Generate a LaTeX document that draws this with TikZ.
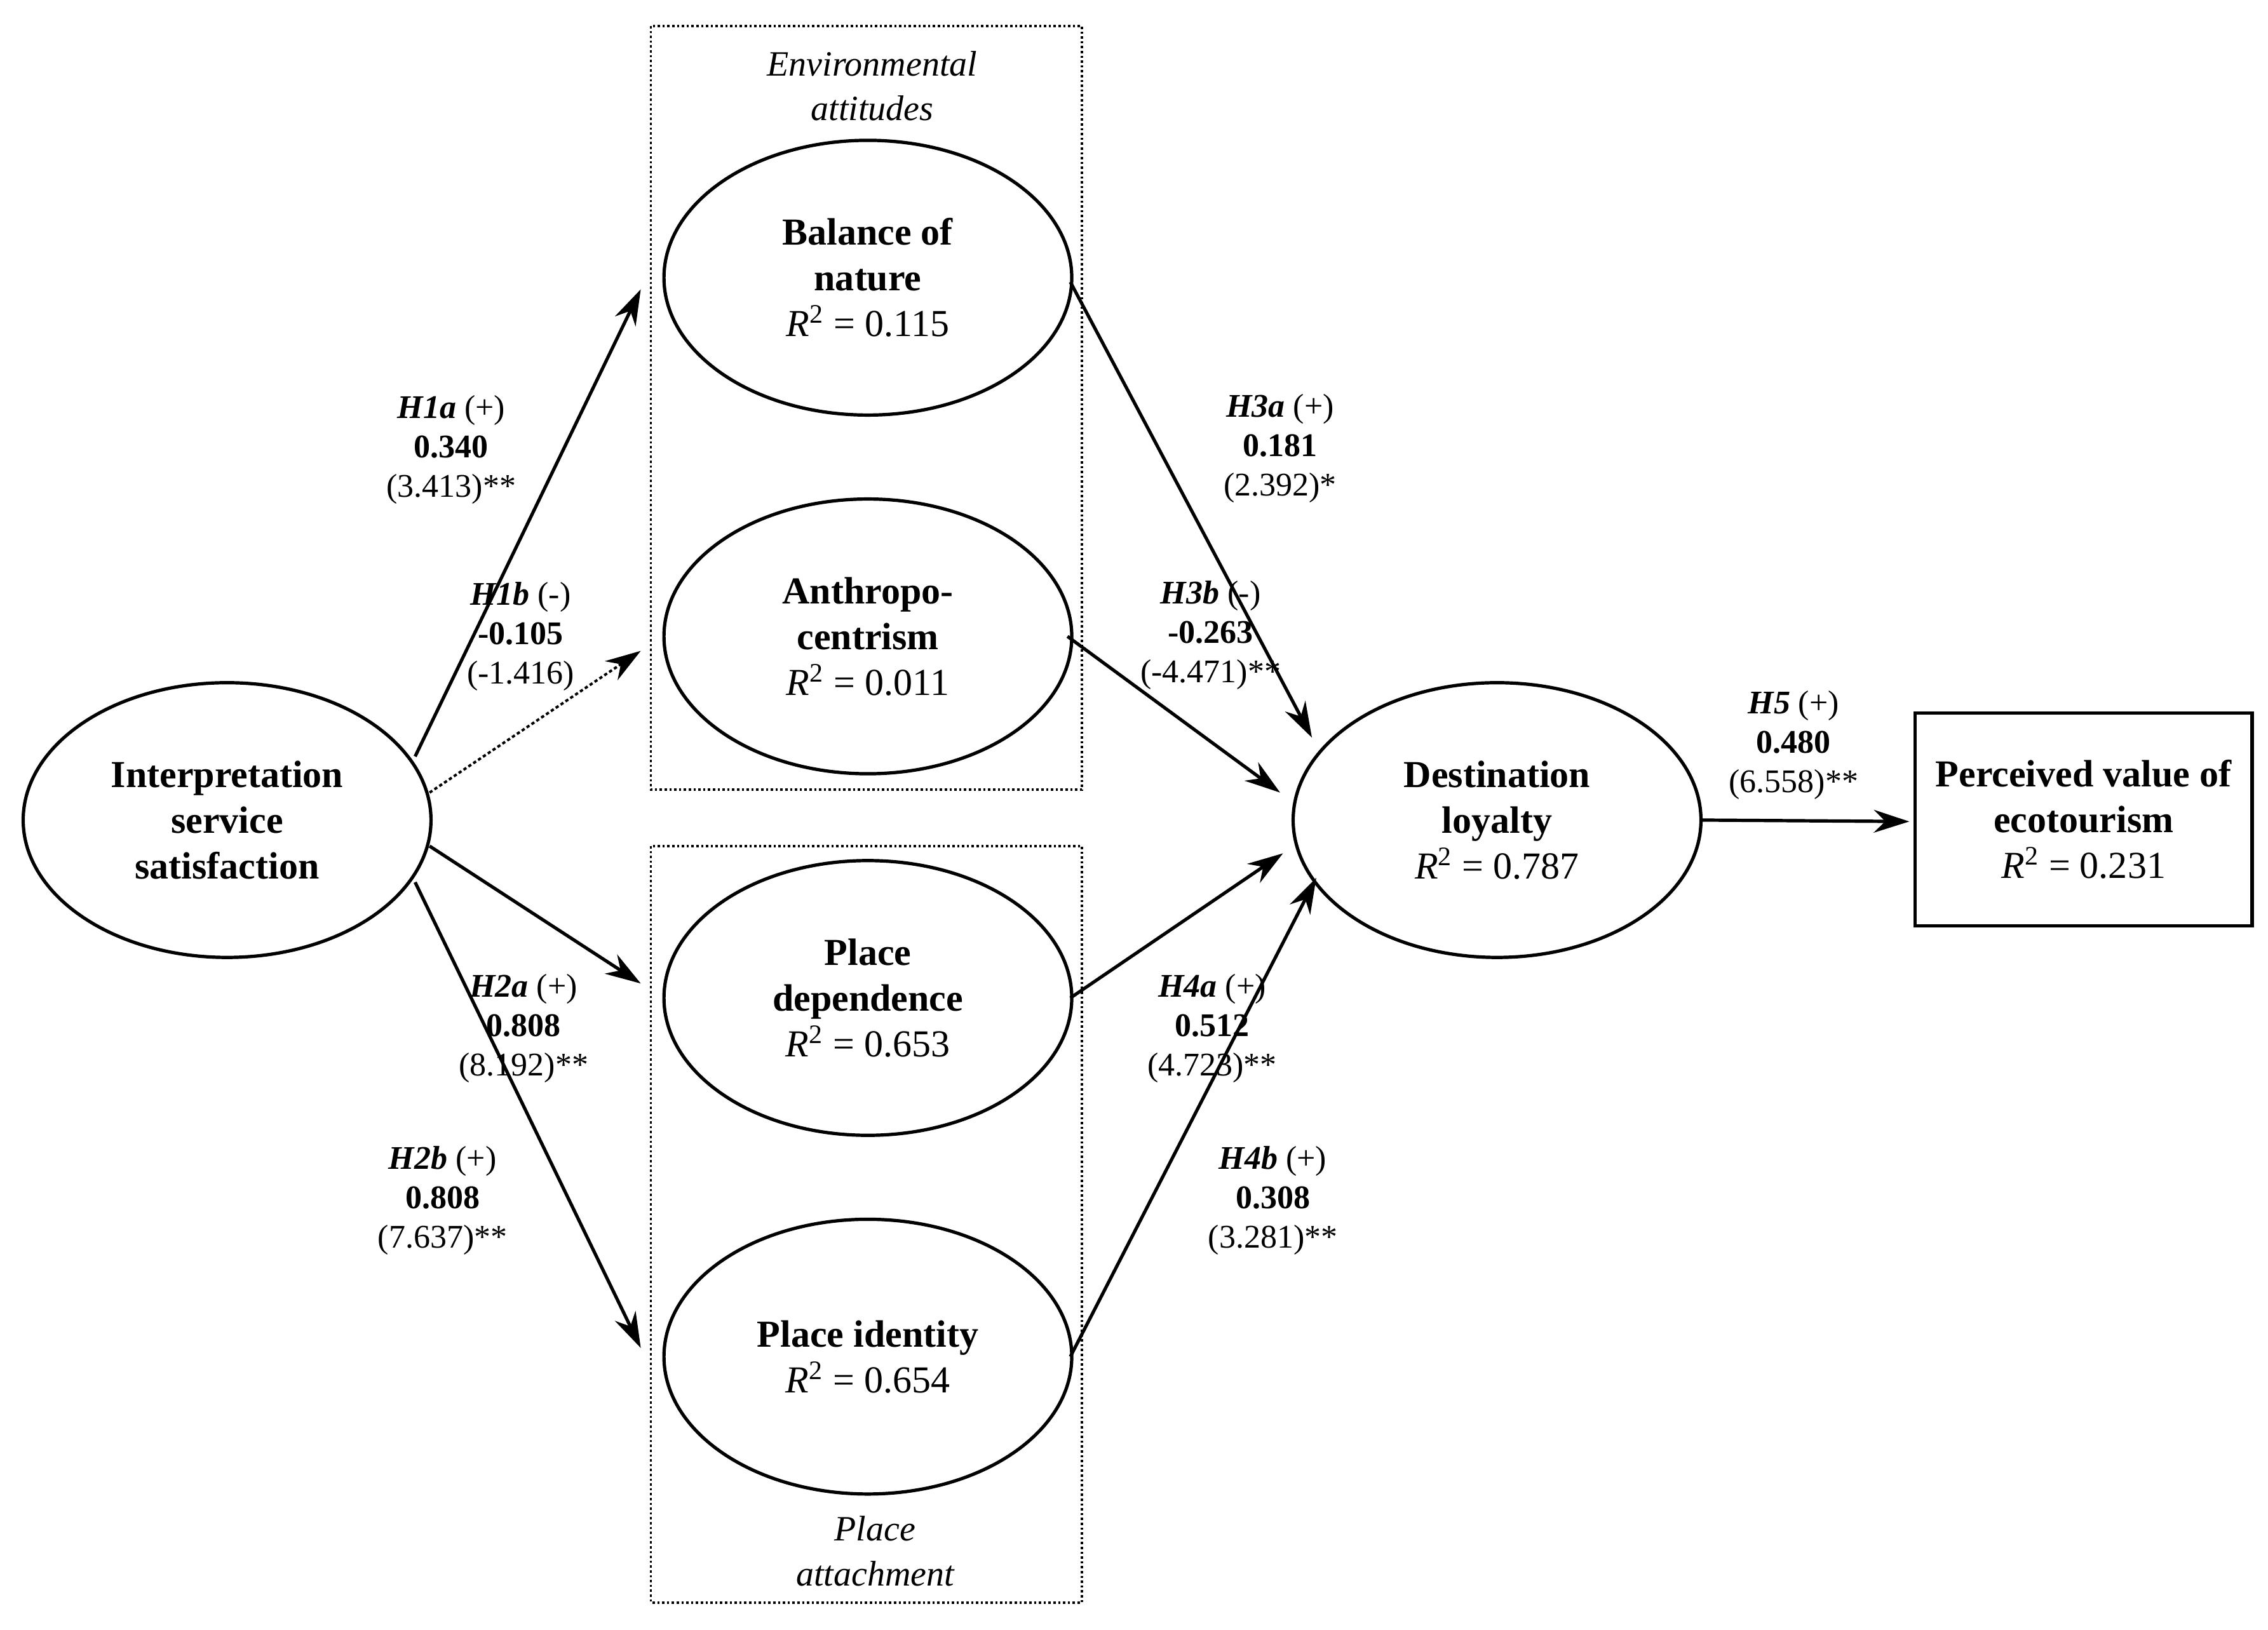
\documentclass[tikz,border=0pt]{standalone}
\usepackage{fontspec}
\setmainfont{Liberation Serif}
\usetikzlibrary{shapes.geometric,arrows.meta}
\begin{document}
\begin{tikzpicture}[x=0.02cm,y=-0.02cm,
 ell/.style={ellipse,draw,line width=1.3pt,minimum width=5.64cm,minimum height=3.8cm,inner sep=0pt,align=center,font=\fontsize{15}{18}\selectfont},
 arr/.style={line width=1.3pt,-{Stealth[length=14pt,width=9pt]}},
 lab/.style={align=center,font=\fontsize{13}{15.5}\selectfont,inner sep=0pt},
 grp/.style={draw,densely dotted,line width=0.9pt},
 gl/.style={font=\fontsize{14}{17}\selectfont\itshape,inner sep=0pt}]
\useasboundingbox (0,0) rectangle (1568,1127);
\draw[grp] (450,18) rectangle (748,546);
\draw[grp] (450,585) rectangle (748,1108);
\node[gl] (ea1) at (603,44) {Environmental};
\node[gl] (ea2) at (603,75) {attitudes};
\node[gl] (pa1) at (605,1057) {Place};
\node[gl] (pa2) at (605,1088) {attachment};
\newcommand{\rsq}[1]{\textit{R}\textsuperscript{2} = #1}
\node[ell] (isat) at (157,567) {\textbf{Interpretation}\\\textbf{service}\\\textbf{satisfaction}};
\node[ell] (bal) at (600,192) {\textbf{Balance of}\\\textbf{nature}\\\rsq{0.115}};
\node[ell] (ant) at (600,440) {\textbf{Anthropo-}\\\textbf{centrism}\\\rsq{0.011}};
\node[ell] (pdep) at (600,690) {\textbf{Place}\\\textbf{dependence}\\\rsq{0.653}};
\node[ell] (pid) at (600,938) {\textbf{Place identity}\\\rsq{0.654}};
\node[ell] (dl) at (1035,567) {\textbf{Destination}\\\textbf{loyalty}\\\rsq{0.787}};
\node[draw,line width=1.3pt,minimum width=4.66cm,minimum height=2.94cm,align=center,inner sep=0pt,font=\fontsize{15}{18}\selectfont] (pv) at (1440.5,566.5) {\textbf{Perceived value of}\\\textbf{ecotourism}\\\rsq{0.231}};
\coordinate (s1) at (287,523); \coordinate (t1) at (443,200);
\coordinate (s2) at (297,548); \coordinate (t2) at (443,450);
\coordinate (s3) at (297,585); \coordinate (t3) at (443,680);
\coordinate (s4) at (287,610); \coordinate (t4) at (443,932);
\coordinate (s5) at (740,195); \coordinate (t5) at (907,510);
\coordinate (s6) at (738,440); \coordinate (t6) at (885,548);
\coordinate (s7) at (740,690); \coordinate (t7) at (887,590);
\coordinate (s8) at (740,938); \coordinate (t8) at (910,607);
\coordinate (t9) at (1320,568);
\draw[arr] (s1) -- (t1);
\draw[arr,densely dotted,line width=1pt] (s2) -- (t2);
\draw[arr] (s3) -- (t3);
\draw[arr] (s4) -- (t4);
\draw[arr] (s5) -- (t5);
\draw[arr] (s6) -- (t6);
\draw[arr] (s7) -- (t7);
\draw[arr] (s8) -- (t8);
\draw[arr] (dl.east) -- (t9);
\node[lab] (l1) at (312,311) {\textbf{\textit{H1a}} (+)\\\textbf{0.340}\\(3.413)**};
\node[lab] (l2) at (360,440) {\textbf{\textit{H1b}} (-)\\\textbf{-0.105}\\(-1.416)};
\node[lab] (l3) at (362,711) {\textbf{\textit{H2a}} (+)\\\textbf{0.808}\\(8.192)**};
\node[lab] (l4) at (306,830) {\textbf{\textit{H2b}} (+)\\\textbf{0.808}\\(7.637)**};
\node[lab] (l5) at (885,310) {\textbf{\textit{H3a}} (+)\\\textbf{0.181}\\(2.392)*};
\node[lab] (l6) at (837,439) {\textbf{\textit{H3b}} (-)\\\textbf{-0.263}\\(-4.471)**};
\node[lab] (l7) at (838,711) {\textbf{\textit{H4a}} (+)\\\textbf{0.512}\\(4.723)**};
\node[lab] (l8) at (880,830) {\textbf{\textit{H4b}} (+)\\\textbf{0.308}\\(3.281)**};
\node[lab] (l9) at (1240,515) {\textbf{\textit{H5}} (+)\\\textbf{0.480}\\(6.558)**};
\end{tikzpicture}
\end{document}
